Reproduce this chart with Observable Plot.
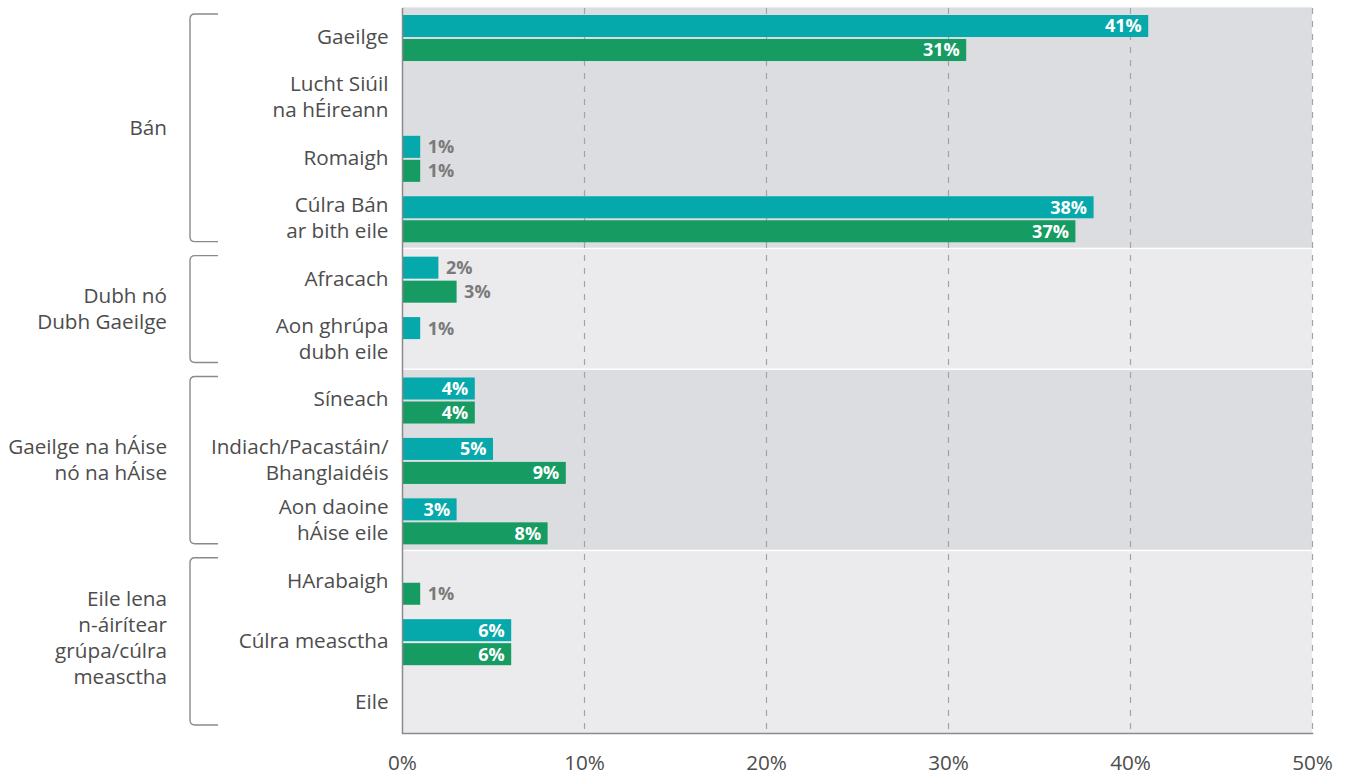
<!DOCTYPE html>
<html><head><meta charset="utf-8">
<script src="https://cdn.jsdelivr.net/npm/d3@7"></script>
<script src="https://cdn.jsdelivr.net/npm/@observablehq/plot@0.6"></script>
<style>body{margin:0;background:#fff;} svg{display:block}</style>
</head><body><div id="chart"></div>
<script>
const categories = ["Gaeilge", "Lucht Siúil\nna hÉireann", "Romaigh", "Cúlra Bán\nar bith eile", "Afracach", "Aon ghrúpa\ndubh eile", "Síneach", "Indiach/Pacastáin/\nBhanglaidéis", "Aon daoine\nhÁise eile", "HArabaigh", "Cúlra measctha", "Eile"];
const categoryGroup = [0, 0, 0, 0, 1, 1, 2, 2, 2, 3, 3, 3];
const groupNames = ["Bán", "Dubh nó\nDubh Gaeilge", "Gaeilge na hÁise\nnó na hÁise", "Eile lena\nn-áirítear\ngrúpa/cúlra\nmeasctha"];
const tealValues = [41, null, 1, 38, 2, 1, 4, 5, 3, null, 6, null];
const greenValues = [31, null, 1, 37, 3, null, 4, 9, 8, 1, 6, null];
const outsideLabels = ["Afracach|green"];
const xTicks = [0, 10, 20, 30, 40, 50];

const FONT = "'Open Sans', 'Noto Sans', sans-serif";
const TEAL = "#05a8ab", GREEN = "#169b62";
const bandColors = ["#dcdde0", "#ebebed"];
const FS = 20.7;

const bg = categories.map((c, i) => ({
  cat: c, group: categoryGroup[i],
  last: i < categories.length - 1 && categoryGroup[i + 1] !== categoryGroup[i]
}));
const rows = [];
categories.forEach((c, i) => {
  if (tealValues[i] != null) rows.push({cat: c, series: "teal", v: tealValues[i]});
  if (greenValues[i] != null) rows.push({cat: c, series: "green", v: greenValues[i]});
});
const isInside = d => d.v >= 3 && !outsideLabels.includes(d.cat + "|" + d.series);
const teal = rows.filter(d => d.series === "teal");
const green = rows.filter(d => d.series === "green");
const fmt = d => d.v + "%";

const chart = Plot.plot({
  width: 1350, height: 776,
  marginLeft: 402, marginRight: 38, marginTop: 8, marginBottom: 43,
  style: {fontFamily: FONT, background: "#fff"},
  x: {domain: [0, 50], label: null},
  y: {domain: categories, padding: 0, round: false, axis: null},
  marks: [
    Plot.barX(bg.filter(d => !d.last), {y: "cat", x1: 0, x2: 50, insetTop: -0.6, insetBottom: -0.6, fill: d => bandColors[d.group % 2]}),
    Plot.barX(bg.filter(d => d.last), {y: "cat", x1: 0, x2: 50, insetTop: -0.6, insetBottom: 2, fill: d => bandColors[d.group % 2]}),
    Plot.ruleX(xTicks.slice(1), {stroke: "#a3a3a3", strokeWidth: 1.2, strokeDasharray: "6,7"}),
    Plot.barX(teal, {y: "cat", x: "v", fill: TEAL, insetTop: 7, insetBottom: 31.4}),
    Plot.barX(green, {y: "cat", x: "v", fill: GREEN, insetTop: 31, insetBottom: 7.4}),
    Plot.text(teal.filter(isInside), {y: "cat", x: "v", text: fmt, dy: -12, dx: -7, textAnchor: "end", fill: "white", fontWeight: "bold", fontSize: 18}),
    Plot.text(green.filter(isInside), {y: "cat", x: "v", text: fmt, dy: 12, dx: -7, textAnchor: "end", fill: "white", fontWeight: "bold", fontSize: 18}),
    Plot.text(teal.filter(d => !isInside(d)), {y: "cat", x: "v", text: fmt, dy: -12, dx: 7, textAnchor: "start", fill: "#7a7a7a", fontWeight: "bold", fontSize: 18}),
    Plot.text(green.filter(d => !isInside(d)), {y: "cat", x: "v", text: fmt, dy: 12, dx: 7, textAnchor: "start", fill: "#7a7a7a", fontWeight: "bold", fontSize: 18}),
    Plot.text(categories, {y: d => d, x: 0, text: d => d, dx: -14, dy: -3, textAnchor: "end", fill: "#4d4d4d", fontSize: FS, lineHeight: 1.25}),
    Plot.ruleX([0], {stroke: "#8a8a8a", strokeWidth: 1.5}),
    Plot.frame({anchor: "bottom", stroke: "#8a8a8a", strokeWidth: 1.5}),
    Plot.axisX({ticks: xTicks, tickFormat: d => d + "%", tickSize: 0, tickPadding: 22, fontSize: FS, fill: "#4d4d4d", label: null})
  ]
});
document.getElementById("chart").appendChild(chart);

// group brackets and labels, positioned with the plot's y scale
const ys = chart.scale("y");
const step = ys.bandwidth != null ? ys.bandwidth : (ys.apply(categories[1]) - ys.apply(categories[0]));
const svg = d3.select(chart);
const g = svg.append("g");
groupNames.forEach((name, gi) => {
  const cats = categories.filter((c, i) => categoryGroup[i] === gi);
  const y0 = ys.apply(cats[0]) + 6;
  const y1 = ys.apply(cats[cats.length - 1]) + step - 8;
  const xl = 190, xr = 218, r = 5;
  g.append("path")
    .attr("d", `M${xr},${y0} H${xl + r} Q${xl},${y0} ${xl},${y0 + r} V${y1 - r} Q${xl},${y1} ${xl + r},${y1} H${xr}`)
    .attr("fill", "none").attr("stroke", "#8a8a8a").attr("stroke-width", 1.4);
  const lines = name.split("\n");
  const lh = 26;
  const cy = (y0 + y1) / 2 - (gi === 3 ? 4 : 0);
  const t = g.append("text").attr("text-anchor", "end").attr("fill", "#4d4d4d")
    .attr("font-family", FONT).attr("font-size", FS);
  lines.forEach((ln, li) => {
    t.append("tspan").attr("x", 167)
      .attr("y", cy + (li - (lines.length - 1) / 2) * lh)
      .attr("dy", "0.35em").text(ln);
  });
});
</script>
</body></html>
